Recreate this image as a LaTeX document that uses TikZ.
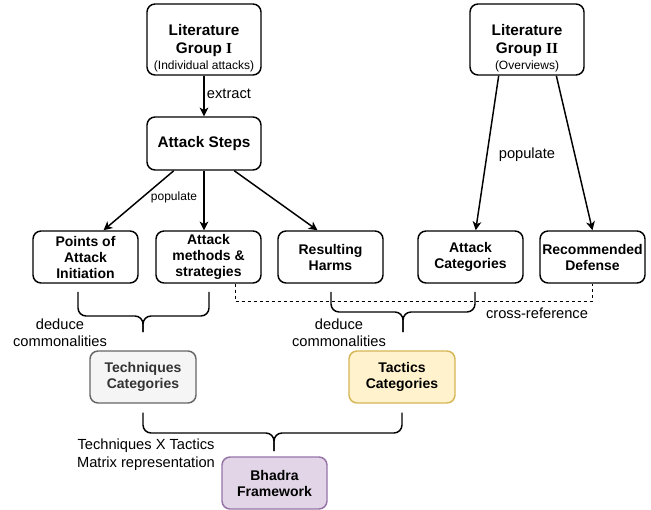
\documentclass[tikz,border=0pt]{standalone}
\usepackage{fontspec}
\setmainfont{Liberation Sans}
\newfontfamily\romannum{Liberation Serif}
\usepackage{xcolor}
\usepackage{tikz}
\usetikzlibrary{arrows.meta}

\definecolor{techFill}{HTML}{F5F5F5}
\definecolor{techLine}{HTML}{666666}
\definecolor{techText}{HTML}{333333}
\definecolor{tactFill}{HTML}{FFF2CC}
\definecolor{tactLine}{HTML}{D6B656}
\definecolor{fwFill}{HTML}{E1D5E7}
\definecolor{fwLine}{HTML}{9673A6}

\begin{document}
\begin{tikzpicture}[x=0.75pt, y=-0.75pt,
>={Stealth[length=6.5pt, width=6.5pt, inset=1.8pt]},
source/.style={rectangle, rounded corners=6pt, draw=black, fill=white,
minimum width=85.5pt, minimum height=53.25pt, align=center, inner sep=1pt,
font=\fontsize{11.5}{13.5}\selectfont\bfseries},
%
item/.style={rectangle, rounded corners=6pt, draw=black, fill=white,
minimum width=78.75pt, minimum height=39pt, align=center, inner sep=1pt,
font=\fontsize{10.5}{12}\selectfont\bfseries},
%
technique/.style={item, draw=techLine, fill=techFill, text=techText,
minimum width=79.5pt},
%
tactic/.style={item, draw=tactLine, fill=tactFill, minimum width=79.5pt},
%
framework/.style={item, draw=fwLine, fill=fwFill},
%
note/.style={align=center, inner sep=1pt, font=\fontsize{11}{13}\selectfont},
%
brace/.style={rounded corners=6pt},
%
xref/.style={line width=.75pt, dash pattern=on 2.25pt off 2.25pt}]

\tikzset{every path/.style={line width=1.1pt}}

\useasboundingbox (0,0) rectangle (651,510);

\begin{scope}
  %%%%%%%%%%%%%%%%%%%%%%%%%%%%%%
  \node [source] (litI) at (204,39.5) {\rule{0pt}{21pt}Literature\\Group
    {\romannum I}\\[-1.5pt]{\fontsize{9}{10}\selectfont\mdseries (Individual attacks)}};
  \node [source] (litII) at (527,39.5) {\rule{0pt}{21pt}Literature\\Group
    {\romannum II}\\[-1.5pt]{\fontsize{9}{10}\selectfont\mdseries (Overviews)}};
  \node [source, minimum height=39.75pt] (attSteps) at (204,143.5) {Attack Steps};
  %%%%%%%%%%%%%%%%%%%%%%%%%%%%%%
  \node [item] (pointsInit) at (85.5,257) {Points of\\Attack\\Initiation};
  \node [item] (attMethods) at (208.5,257) {Attack\\methods \&\\strategies};
  \node [item] (resHarms) at (330.5,257) {Resulting\\Harms};
  \node [item] (attCat) at (470.5,257) {Attack\\Categories};
  \node [item] (recDef) at (592.5,257) {Recommended\\Defense};
  %%%%%%%%%%%%%%%%%%%%%%%%%%%%%%
  \node [technique] (techCat) at (143,377) {Techniques\\Categories};
  \node [tactic] (tactCat) at (402,377) {Tactics\\Categories};
  \node [framework] (bhadra) at (274.5,483) {Bhadra\\Framework};
\end{scope}

\begin{scope}
  \draw [->] (litI) -- (attSteps);
  \draw [->] (attSteps.222) -- (pointsInit.56);
  \draw [->] (attSteps.south) -- (attSteps.south |- attMethods.north);
  \draw [->] (attSteps.318) -- (resHarms.116);
  %%%%%%%%%%%%%%%%%%%%%%%%%%%%%%
  \draw [->] (litII.232) -- (attCat.79);
  \draw [->] (litII.309) -- (recDef.north);
  %%%%%%%%%%%%%%%%%%%%%%%%%%%%%%
  \draw [xref] (attMethods.south -| 235,0) -- (235,301) -| (recDef.south);
  %%%%%%%%%%%%%%%%%%%%%%%%%%%%%%
  \draw [brace] (78,292) |- (143,316) -- (143,332);
  \draw [brace] (209,292) |- (143,316) -- (143,332);
  \draw [brace] (331,292) |- (403,312) -- (403,332);
  \draw [brace] (475,292) |- (403,312) -- (403,332);
  \draw [brace] (techCat.south) ++(0,9) |- (274,433) -- (274,451);
  \draw [brace] (tactCat.south) ++(0,9) |- (274,433) -- (274,451);
  %%%%%%%%%%%%%%%%%%%%%%%%%%%%%%
  \node [note] at (229,94) {extract};
  \node [note, font=\fontsize{9}{11}\selectfont] at (174,197) {populate};
  \node [note] at (527,155) {populate};
  \node [note] at (60,333) {deduce\\commonalities};
  \node [note] at (339,333) {deduce\\commonalities};
  \node [note] at (537,313) {cross-reference};
  \node [note, font=\fontsize{11}{13.5}\selectfont] at (146,455) {Techniques X Tactics\\Matrix representation};
\end{scope}

\end{tikzpicture}
\end{document}
